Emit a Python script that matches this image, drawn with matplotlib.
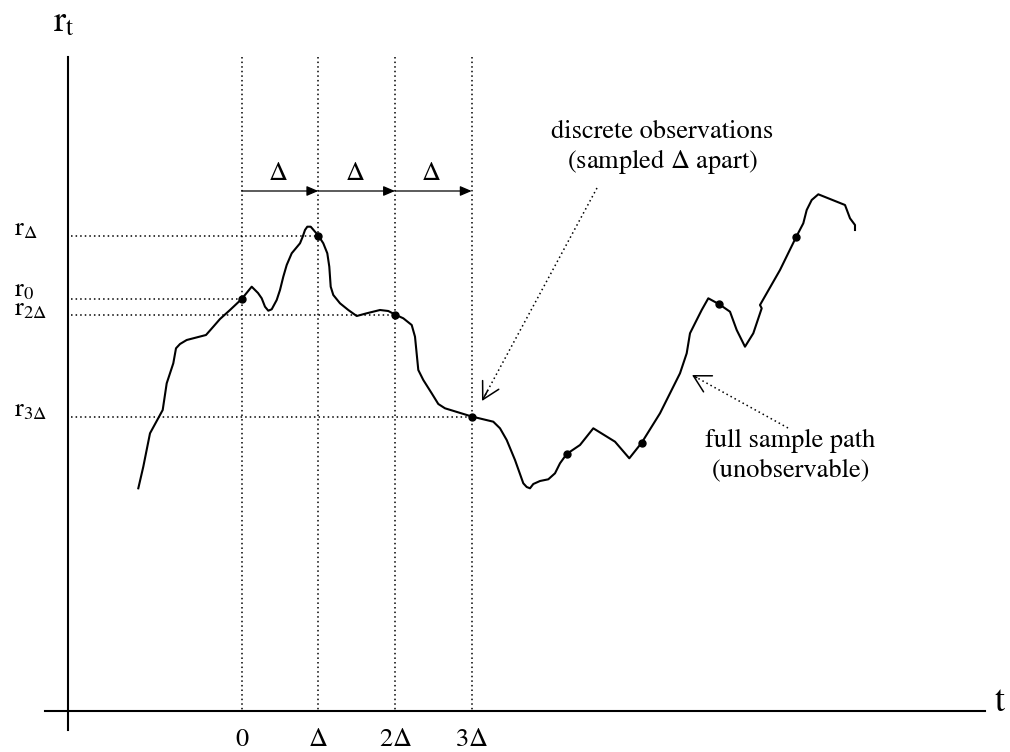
import matplotlib
matplotlib.use("Agg")
import matplotlib.pyplot as plt

plt.rcParams['font.family'] = ['STIXGeneral', 'DejaVu Serif']
plt.rcParams['mathtext.fontset'] = 'stix'

# sample path, drawn in page units (x to the right, y downwards)
path_x = [138.3, 143.3, 150.0, 162.7, 166.7, 173.3, 176.0, 180.0, 186.7, 206.0,
          213.3, 220.0, 230.0, 241.7, 251.7, 258.0, 261.7, 265.0, 268.3, 271.7,
          276.7, 280.0, 283.3, 286.7, 291.7, 300.0, 302.7, 305.0, 307.3, 310.7,
          315.0, 318.3, 323.3, 327.3, 329.3, 330.7, 333.3, 340.0, 348.3, 356.7,
          366.7, 380.0, 388.3, 395.0, 403.3, 411.7, 415.0, 418.3, 423.3, 431.7,
          438.3, 445.0, 471.7, 493.3, 500.0, 506.7, 515.0, 523.3, 526.7, 530.0,
          533.3, 540.0, 548.3, 555.0, 560.0, 566.7, 580.0, 593.3, 615.0, 629.3,
          641.7, 660.0, 670.0, 680.0, 686.7, 690.0, 695.0, 701.7, 708.3, 719.3,
          730.0, 736.7, 745.0, 753.3, 761.7, 760.0, 780.0, 796.0, 803.3, 806.7,
          811.7, 818.3, 845.0, 850.0, 855.0, 855.0]
path_y = [488.3, 466.7, 433.3, 410.0, 383.3, 363.3, 348.3, 344.0, 340.0, 335.0,
          326.7, 319.0, 310.0, 299.0, 286.7, 293.0, 298.3, 306.7, 310.7, 309.3,
          300.0, 290.0, 276.7, 265.0, 253.3, 243.3, 236.7, 230.0, 226.7, 226.7,
          231.7, 235.5, 243.3, 253.3, 266.7, 286.7, 295.0, 303.3, 310.0, 316.0,
          313.3, 310.0, 311.0, 314.5, 318.3, 325.0, 336.7, 370.0, 380.0, 393.3,
          404.0, 408.3, 416.5, 421.7, 428.3, 440.0, 460.0, 483.3, 487.0, 488.3,
          484.0, 481.0, 479.3, 473.3, 463.3, 454.0, 445.0, 428.3, 441.7, 458.3,
          442.7, 413.3, 393.3, 373.3, 353.3, 333.3, 323.3, 310.0, 298.3, 304.3,
          311.7, 330.0, 346.7, 333.3, 308.3, 305.0, 270.0, 237.3, 223.3, 210.0,
          200.0, 194.3, 205.0, 218.3, 225.0, 230.0]

# discrete observations (points of the path above)
obs_x = [241.7, 318.3, 395.0, 471.7, 566.7, 641.7, 719.3, 796.0]
obs_y = [299.0, 235.5, 314.5, 416.5, 454.0, 442.7, 304.3, 237.3]

# the first four observations get grid lines and labels
grid_labels = ['0', r'$\Delta$', r'2$\Delta$', r'3$\Delta$']
level_labels = [r'$\mathrm{r}_{0}$', r'$\mathrm{r}_{\Delta}$',
                r'$\mathrm{r}_{2\Delta}$', r'$\mathrm{r}_{3\Delta}$']
level_shift = [-3, 0, 1, 0]   # r0 and r2Δ sit close together

axis_x0, axis_y0 = 68, 711
axis_top, axis_right = 57, 985
fs = 19

fig = plt.figure(figsize=(10.1, 7.52), dpi=100)
ax = fig.add_axes([0, 0, 1, 1])
ax.set_xlim(0, 1010)
ax.set_ylim(752, 0)
ax.axis('off')

# axes
ax.plot([axis_x0, axis_x0], [axis_top, 730], color='black', lw=1.5)
ax.plot([45, axis_right], [axis_y0, axis_y0], color='black', lw=1.5)
ax.text(53, 31, r'$\mathrm{r}_{\mathrm{t}}$', fontsize=26, va='baseline')
ax.text(995, 711, 't', fontsize=26, va='baseline')

dots = (0, (1, 2))

for k in range(4):
    gx, gy = obs_x[k], obs_y[k]
    ax.plot([gx, gx], [axis_top, axis_y0], color='black', lw=1.1, ls=dots)
    ax.plot([axis_x0 + 3, gx], [gy, gy], color='black', lw=1.1, ls=dots)
    ax.text(gx, 746, grid_labels[k], fontsize=fs, ha='center', va='baseline')
    ax.text(14, gy + level_shift[k], level_labels[k], fontsize=fs, va='baseline')

# spacing arrows between grid lines
for k in range(3):
    ax.annotate('', xy=(obs_x[k + 1], 191), xytext=(obs_x[k], 191),
                arrowprops=dict(arrowstyle='-|>,head_length=0.7,head_width=0.3',
                                color='black', lw=0.9, shrinkA=0, shrinkB=0,
                                mutation_scale=10))
    ax.text((obs_x[k] + obs_x[k + 1]) / 2 - 2, 180, r'$\Delta$', fontsize=fs,
            ha='center', va='baseline')

# the path and its observed points
ax.plot(path_x, path_y, color='black', lw=1.5, solid_joinstyle='round')
ax.plot(obs_x, obs_y, 'o', color='black', ms=5)


def pointer(start, tip):
    ax.plot([start[0], tip[0]], [start[1], tip[1]], color='black', lw=1.1, ls=dots)
    dx, dy = tip[0] - start[0], tip[1] - start[1]
    ax.annotate('', xy=tip, xytext=(tip[0] - 0.05 * dx, tip[1] - 0.05 * dy),
                arrowprops=dict(arrowstyle='->,head_length=0.4,head_width=0.22',
                                color='black', lw=1.1, shrinkA=0, shrinkB=0,
                                mutation_scale=30))


pointer((597, 188), (482, 401))
pointer((788, 428), (692, 375))

ax.text(662, 138, 'discrete observations', fontsize=fs, ha='center', va='baseline')
ax.text(663, 168, r'(sampled $\Delta$ apart)', fontsize=fs, ha='center', va='baseline')
ax.text(790, 447, 'full sample path', fontsize=fs, ha='center', va='baseline')
ax.text(791, 476, '(unobservable)', fontsize=fs, ha='center', va='baseline')

fig.savefig('out.png', dpi=100)
